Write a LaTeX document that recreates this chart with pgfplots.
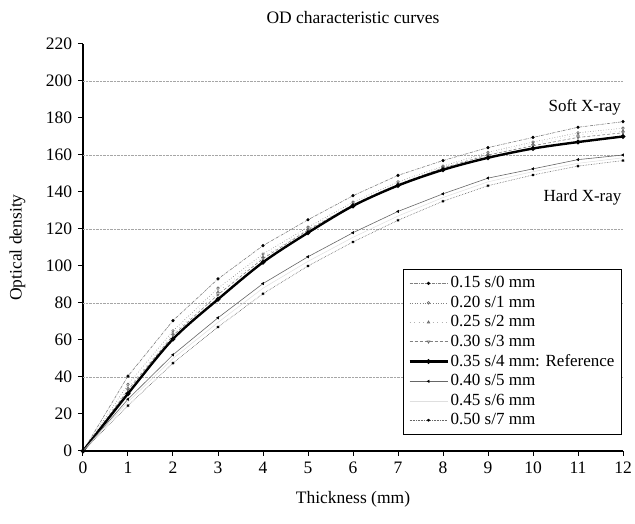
\documentclass[border=0pt]{standalone}
\usepackage{pgfplots}
\pgfplotsset{compat=1.18}
\usepackage{fontspec}
\setmainfont{Liberation Serif}
\usetikzlibrary{plotmarks}
\begin{document}
\fontsize{17}{20}\selectfont
\begin{tikzpicture}
\begin{axis}[
  scale only axis,
  width=540pt, height=407pt,
  xmin=0, xmax=12, ymin=0, ymax=220,
  axis lines*=left,
  axis line style={line width=1.1pt, black},
  xtick={0,1,...,12},
  ytick={0,20,...,220},
  tick align=outside,
  major tick length=5pt,
  tick style={line width=1pt, black},
  /pgf/number format/assume math mode=true,
  ticklabel style={font=\fontsize{17.5}{20}\selectfont},
  extra y ticks={40,80,120,160,200},
  extra y tick labels={},
  extra y tick style={grid=major, major tick length=0pt},
  grid style={gray!70, densely dotted, line width=0.8pt},
  title={OD characteristic curves},
  title style={font=\fontsize{17.5}{20}\selectfont, yshift=8pt},
  xlabel={Thickness (mm)},
  ylabel={Optical density},
  label style={font=\fontsize{17.5}{20}\selectfont},
  xlabel style={yshift=-6pt},
  ylabel style={yshift=4pt},
  legend style={at={(0.998,0.447)}, anchor=north east, draw=black, line width=0.8pt,
    font=\fontsize{17}{20}\selectfont, row sep=1.6pt, inner xsep=5pt, inner ysep=5pt, cells={anchor=west}},
  legend image code/.code={\draw[mark repeat=2,mark phase=2,#1] plot coordinates {(0pt,0pt)(19pt,0pt)(38pt,0pt)};},
  mark size=1.6pt,
]
\coordinate (sw) at (rel axis cs:0,0);
\coordinate (ne) at (rel axis cs:1,1);
% 0.15 s/0 mm
\addplot[gray, line width=0.6pt, densely dashdotted, mark=*, mark options={solid, black, scale=0.8}] coordinates {
(0,0)(1,40.5)(2,70.5)(3,93)(4,111)(5,125)(6,138)(7,149)(8,157)(9,164)(10,169.5)(11,175)(12,178)};
\addlegendentry{0.15 s/0 mm}
% 0.20 s/1 mm
\addplot[gray, line width=0.6pt, dotted, mark=o, mark options={solid, gray!80!black, scale=0.8}] coordinates {
(0,0)(1,36)(2,65)(3,88)(4,106.5)(5,121)(6,134.5)(7,145.5)(8,154)(9,161.5)(10,167)(11,172)(12,174.5)};
\addlegendentry{0.20 s/1 mm}
% 0.25 s/2 mm
\addplot[gray!60, line width=0.6pt, loosely dotted, mark=triangle, mark options={solid, gray!80!black, scale=0.9}] coordinates {
(0,0)(1,34)(2,63.5)(3,86)(4,105)(5,120)(6,133.5)(7,144.5)(8,153.5)(9,160.5)(10,166)(11,171)(12,173)};
\addlegendentry{0.25 s/2 mm}
% 0.30 s/3 mm
\addplot[gray, line width=0.6pt, densely dashed, mark=triangle, mark options={solid, rotate=180, gray!80!black, scale=0.9}] coordinates {
(0,0)(1,33)(2,62.5)(3,84.5)(4,104)(5,119.5)(6,133)(7,144)(8,153)(9,160)(10,165)(11,169.5)(12,172)};
\addlegendentry{0.30 s/3 mm}
% 0.35 s/4 mm reference
\addplot[black, line width=2.4pt, smooth, mark=*, mark options={black, scale=0.6}] coordinates {
(0,0)(1,31)(2,60.5)(3,82)(4,102)(5,118)(6,132.5)(7,143.5)(8,152)(9,158.5)(10,163.5)(11,167)(12,170)};
\addlegendentry{0.35 s/4 mm: Reference}
% 0.40 s/5 mm
\addplot[gray!80!black, line width=0.6pt, mark=triangle*, mark options={rotate=90, black, scale=0.8}] coordinates {
(0,0)(1,28)(2,52)(3,72)(4,90.5)(5,105)(6,118)(7,129.5)(8,139)(9,147.5)(10,152.5)(11,157.5)(12,160)};
\addlegendentry{0.40 s/5 mm}
% 0.45 s/6 mm
\addplot[gray!25, line width=0.5pt] coordinates {
(0,0)(1,26.5)(2,50)(3,69.5)(4,88)(5,102.5)(6,115.5)(7,127)(8,137)(9,145.5)(10,151)(11,155.5)(12,158.5)};
\addlegendentry{0.45 s/6 mm}
% 0.50 s/7 mm
\addplot[gray!80!black, line width=0.6pt, densely dotted, mark=asterisk, mark options={solid, black, scale=0.9}] coordinates {
(0,0)(1,24.5)(2,47.5)(3,67)(4,85)(5,100)(6,113)(7,124.7)(8,135)(9,143.4)(10,149.2)(11,154)(12,157)};
\addlegendentry{0.50 s/7 mm}
\node[font=\fontsize{17}{20}\selectfont] at (axis cs:11.15,186) {Soft X-ray};
\node[font=\fontsize{17}{20}\selectfont] at (axis cs:11.1,137) {Hard X-ray};
\end{axis}
\pgfresetboundingbox
\path[use as bounding box] ([xshift=-83pt,yshift=-73pt]sw) rectangle ([xshift=12pt,yshift=44pt]ne);
\end{tikzpicture}
\end{document}
